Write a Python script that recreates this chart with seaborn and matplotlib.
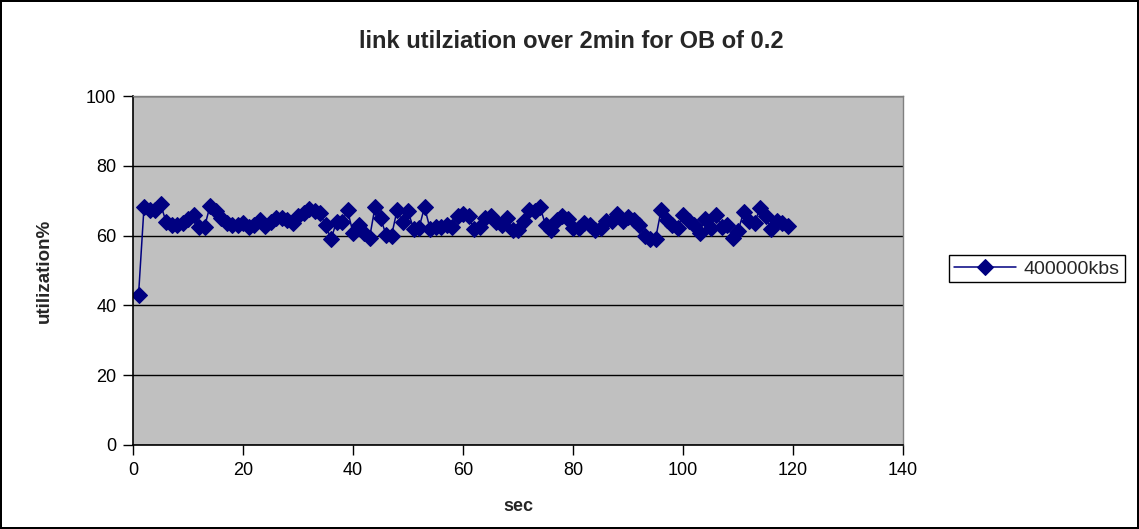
import matplotlib
matplotlib.use("Agg")
import matplotlib.pyplot as plt
import seaborn as sns
import pandas as pd

# link utilization sampled every second
seconds = list(range(1, 120))
utilization = [
    43.0, 68.3, 67.4, 67.4, 69.0, 64.0, 63.0, 63.0, 63.5, 64.8,
    66.0, 62.5, 62.5, 68.5, 67.0, 65.0, 63.6, 63.0, 63.0, 63.5,
    62.5, 63.0, 64.4, 62.7, 64.0, 65.0, 65.0, 64.5, 63.6, 65.5,
    66.5, 67.7, 67.0, 66.5, 63.0, 59.0, 64.0, 64.0, 67.2, 60.8,
    63.0, 60.8, 59.3, 68.2, 65.0, 60.3, 60.0, 67.2, 64.0, 67.0,
    62.0, 62.2, 68.2, 62.0, 62.5, 62.5, 62.9, 62.5, 65.7, 66.3,
    65.5, 61.9, 62.5, 65.0, 65.5, 64.0, 62.9, 65.0, 61.7, 61.7,
    64.1, 67.2, 67.0, 68.2, 63.1, 61.7, 64.6, 65.5, 64.8, 62.2,
    62.2, 63.6, 63.0, 61.7, 62.2, 64.1, 64.1, 66.3, 64.1, 65.3,
    64.4, 63.1, 60.0, 59.0, 59.0, 67.2, 64.4, 63.1, 62.2, 66.0,
    64.1, 62.9, 60.8, 64.8, 62.2, 66.0, 62.5, 63.1, 59.3, 61.2,
    66.7, 64.1, 63.6, 67.9, 65.7, 61.9, 64.1, 63.6, 62.7,
]
series_name = "400000kbs"
x_ticks = [0, 20, 40, 60, 80, 100, 120, 140]
y_ticks = [0, 20, 40, 60, 80, 100]

df = pd.DataFrame({"sec": seconds, "util": utilization})

sns.set_style("white")
plt.rcParams["font.family"] = ["Liberation Sans", "DejaVu Sans"]

fig = plt.figure(figsize=(11.39, 5.29), dpi=100)
fig.patch.set_edgecolor("black")
fig.patch.set_linewidth(1.5)
ax = fig.add_axes([0.1168, 0.1588, 0.676, 0.6597])
ax.set_facecolor("#C0C0C0")

sns.lineplot(data=df, x="sec", y="util", ax=ax, color="#000080",
             marker="D", markersize=8, markeredgecolor="#000080",
             linewidth=1.1, label=series_name)

ax.set_xlim(0, 140)
ax.set_ylim(0, 100)
ax.set_xticks(x_ticks)
ax.set_yticks(y_ticks)
ax.yaxis.grid(True, color="black", linewidth=1)
ax.set_axisbelow(True)
ax.tick_params(axis="both", direction="out", length=7, width=1, pad=5,
               labelsize=13, colors="black", bottom=True, left=True)

for side in ["left", "bottom"]:
    ax.spines[side].set_color("black")
    ax.spines[side].set_linewidth(1.2)
for side in ["top", "right"]:
    ax.spines[side].set_color("#808080")
    ax.spines[side].set_linewidth(1)

fig.text(0.502, 0.922, "link utilziation over 2min for OB of 0.2",
         fontsize=17, fontweight="bold", ha="center", va="center")
ax.set_xlabel("sec", fontsize=13, fontweight="bold", labelpad=14)
ax.set_ylabel("utilization%", fontsize=13.5, fontweight="bold", labelpad=24)

ax.legend(loc="center left", bbox_to_anchor=(1.047, 0.505), frameon=True,
          fancybox=False, edgecolor="black", framealpha=1, fontsize=14,
          handlelength=3.2, borderpad=0.25, handletextpad=0.4)

fig.savefig("out.png", dpi=100, edgecolor=fig.get_edgecolor())
